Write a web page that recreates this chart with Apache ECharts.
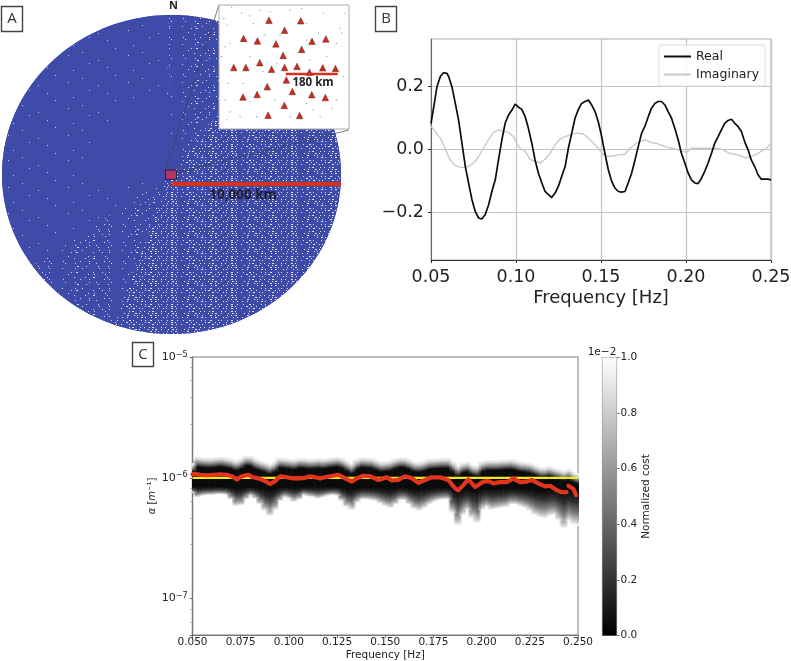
<!DOCTYPE html>
<html><head><meta charset="utf-8">
<style>html,body{margin:0;padding:0;background:#fff}#c{width:791px;height:661px}</style>
<script src="https://cdn.jsdelivr.net/npm/echarts@6/dist/echarts.min.js"></script>
</head><body><div id="c"></div>
<script>
// ---- Panel A: array footprint (km)
const discSectors = [ // startDeg, endDeg, rIn, rOut, speck key
  [0,360,0,1,'none'],
  [92,190,0.5,1,'sparse'],
  [190,215,0.12,1,'sparse'],[215,250,0.05,1,'mid'],
  [250,360,0.03,1,'dense'],[0,55,0.03,1,'dense'],[55,92,0.05,1,'mid']
];
const stationKmX = [-52,58,2,-140,-92,-28,97,145,61,-3,-84,-174,-132,-43,2,45,88,134,178,8,-58,29,96,143,-142,-93,1,-55,54];
const stationKmY = [162,160,127,99,90,80,89,97,61,40,15,-2,-2,-8,-2,2,-18,-3,-5,-45,-68,-85,-96,-106,-104,-95,-133,-167,-168];
const sourceKmX = [-208,-196,-181,-147,-118,-83,-187,-204,-106,-66,21,78,119,194,200,136,182,-204,-187,-152,-118,-129,-72,-25,-216,-193,-95,21,102,125,182,165,78,44,-31,-118,90,148,205,-198,-141,-14,78,-48,61,211];
const sourceKmY = [168,145,207,188,177,197,82,70,151,111,197,151,117,134,117,186,82,-114,-155,-172,-120,-10,-16,13,36,-57,-172,-172,-149,-172,-114,-143,-126,-62,-114,36,24,36,-33,-183,-57,111,93,192,203,186];
const scaleBigKm = [0,10000];
const scaleSmallKm = [6,186];

// ---- Panel B: cross-spectrum
const realFreq = [0.05,0.0516,0.0535,0.0555,0.0574,0.0594,0.0604,0.0623,0.0643,0.0662,0.0682,0.0702,0.0721,0.0741,0.076,0.078,0.0799,0.0819,0.0839,0.0858,0.0878,0.0897,0.0917,0.0936,0.0956,0.0976,0.0995,0.1015,0.1034,0.1054,0.1073,0.1093,0.1112,0.1132,0.1152,0.1171,0.1191,0.121,0.123,0.1249,0.1269,0.1289,0.1308,0.1328,0.1347,0.1367,0.1386,0.1406,0.1426,0.1445,0.1465,0.1484,0.1504,0.1523,0.1543,0.1563,0.1582,0.1602,0.1621,0.1641,0.166,0.168,0.17,0.1719,0.1739,0.1758,0.1778,0.1797,0.1817,0.1836,0.1856,0.1876,0.1895,0.1915,0.1934,0.1954,0.1973,0.1993,0.2013,0.2032,0.2052,0.2071,0.2091,0.211,0.213,0.215,0.2169,0.2189,0.2208,0.2228,0.2247,0.2267,0.2287,0.2306,0.2326,0.2345,0.2365,0.2384,0.2404,0.2424,0.2443,0.2463,0.2482,0.25];
const realValues = [0.083,0.134,0.199,0.231,0.243,0.241,0.231,0.199,0.146,0.094,0.020,-0.054,-0.106,-0.159,-0.196,-0.217,-0.220,-0.206,-0.175,-0.133,-0.096,-0.033,0.031,0.083,0.109,0.125,0.144,0.134,0.127,0.104,0.067,0.020,-0.033,-0.075,-0.106,-0.133,-0.143,-0.152,-0.138,-0.117,-0.085,-0.054,0.004,0.052,0.099,0.127,0.146,0.152,0.157,0.141,0.120,0.088,0.041,-0.012,-0.064,-0.101,-0.122,-0.133,-0.135,-0.133,-0.106,-0.075,-0.033,0.009,0.052,0.073,0.104,0.131,0.146,0.152,0.152,0.141,0.120,0.099,0.067,0.031,-0.012,-0.043,-0.075,-0.096,-0.106,-0.108,-0.091,-0.069,-0.043,-0.012,0.020,0.041,0.062,0.083,0.092,0.096,0.083,0.073,0.057,0.025,-0.001,-0.033,-0.054,-0.080,-0.094,-0.094,-0.094,-0.096];
const imagFreq = [0.05,0.0525,0.0555,0.0574,0.0594,0.0613,0.0643,0.0672,0.0702,0.0731,0.076,0.078,0.0809,0.0839,0.0868,0.0897,0.0927,0.0956,0.0985,0.1005,0.1024,0.1054,0.1083,0.1112,0.1142,0.1171,0.1201,0.123,0.1259,0.1289,0.1318,0.1357,0.1396,0.1426,0.1455,0.1484,0.1514,0.1543,0.1572,0.1612,0.1641,0.167,0.1709,0.1758,0.1797,0.1836,0.1876,0.1915,0.1954,0.2003,0.2032,0.2081,0.213,0.2179,0.2218,0.2257,0.2306,0.2355,0.2394,0.2433,0.2472,0.25];
const imagValues = [0.073,0.057,0.036,0.015,-0.012,-0.033,-0.051,-0.056,-0.057,-0.051,-0.038,-0.022,0.004,0.031,0.054,0.062,0.057,0.054,0.041,0.020,0.004,-0.006,-0.031,-0.038,-0.043,-0.031,-0.012,0.015,0.033,0.041,0.046,0.052,0.049,0.036,0.020,0.004,-0.017,-0.022,-0.020,-0.017,-0.015,0.004,0.020,0.031,0.022,0.018,0.009,0.004,-0.001,-0.009,0.004,0.004,0.004,0.004,-0.001,-0.012,-0.017,-0.027,-0.020,-0.009,0.004,0.017];
const bTicksY = [-0.2,0,0.2];

// ---- Panel C: cost band per frequency column, in units of 1e-6 1/m
const costFreqStart = 0.05, costFreqStep = 0.0025;
const costUpper = [1.32,1.52,1.50,1.49,1.49,1.51,1.52,1.49,1.46,1.41,1.46,1.55,1.54,1.46,1.41,1.37,1.32,1.38,1.49,1.48,1.46,1.44,1.48,1.48,1.46,1.46,1.48,1.46,1.48,1.50,1.52,1.48,1.40,1.33,1.44,1.50,1.49,1.48,1.43,1.38,1.39,1.41,1.46,1.50,1.49,1.44,1.38,1.37,1.40,1.45,1.46,1.47,1.48,1.48,1.38,1.27,1.35,1.38,1.30,1.27,1.38,1.42,1.42,1.42,1.43,1.44,1.45,1.42,1.38,1.37,1.35,1.30,1.25,1.24,1.27,1.23,1.20,1.16,1.20,1.13,1.09];
const costLower = [0.75,0.69,0.71,0.72,0.72,0.73,0.73,0.72,0.66,0.58,0.59,0.66,0.71,0.67,0.60,0.53,0.48,0.54,0.64,0.69,0.67,0.63,0.66,0.72,0.70,0.69,0.67,0.69,0.71,0.72,0.71,0.64,0.57,0.54,0.62,0.66,0.66,0.65,0.64,0.61,0.58,0.56,0.60,0.65,0.65,0.60,0.55,0.53,0.56,0.60,0.63,0.65,0.66,0.66,0.51,0.40,0.49,0.54,0.46,0.42,0.54,0.57,0.54,0.55,0.56,0.57,0.60,0.60,0.58,0.56,0.53,0.49,0.47,0.46,0.48,0.49,0.44,0.38,0.44,0.41,0.40];
const estimateFreq = [0.05,0.0514,0.054,0.0575,0.0609,0.0644,0.0678,0.0704,0.073,0.0756,0.079,0.0816,0.0851,0.0877,0.0903,0.0929,0.0955,0.099,0.1024,0.105,0.1084,0.111,0.1136,0.1162,0.1188,0.1214,0.1257,0.1292,0.1327,0.1352,0.1387,0.1421,0.1465,0.1508,0.1534,0.1568,0.1603,0.1638,0.1672,0.1707,0.1741,0.1784,0.1827,0.1836,0.1862,0.1879,0.1905,0.1931,0.1966,0.2009,0.2035,0.2061,0.2095,0.213,0.2164,0.2199,0.2234,0.226,0.2294,0.2329,0.2355,0.239,0.2415,0.2441,0.245,0.2476,0.249];
const estimateAlpha = [1.07,1.08,1.06,1.05,1.06,1.07,1.06,1.03,0.97,1.03,1.06,1.01,0.98,0.94,0.89,0.94,1.03,1.01,0.99,0.99,1.00,1.03,1.01,0.99,1.01,1.03,1.06,0.99,0.93,0.99,1.04,1.03,0.96,1.01,0.95,0.96,1.03,0.99,0.91,0.96,1.01,1.01,0.96,0.96,0.82,0.79,0.87,0.97,0.84,0.93,0.94,0.90,0.92,0.92,0.99,0.92,0.93,0.96,0.90,0.85,0.86,0.79,0.76,0.76,0.86,0.81,0.72];
const estimateBreakAfter = 63;
const trueAlphaFreq = [0.05,0.25];
const trueAlpha = [1,1];
const costbarValue = [1];

// ---- helpers
const UNIT = 1e-6;
const FONT = '"DejaVu Sans"';
const decals = {
  none: null,
  sparse: {symbol:'rect',symbolSize:1,color:'rgba(255,255,255,0.7)',
    dashArrayX:[[0,29,1,30],[0,47,1,12],[0,13,1,46],[0,55,1,4],[0,22,1,37],[0,8,1,51],[0,38,1,21]],
    dashArrayY:[1,2,1,3,1,2,1,4]},
  mid: {symbol:'rect',symbolSize:1,color:'rgba(255,255,255,0.8)',
    dashArrayX:[[0,5,1,9,1,13,1,6,1,14,1,8],[0,17,2,7,1,11,1,9,1,11],[0,2,1,12,1,6,1,16,1,9,1,10],[0,11,1,4,2,15,1,8,1,6,1,10],[0,8,1,19,1,5,1,10,1,14],[0,14,1,10,1,7,2,12,1,12],[0,3,1,16,1,8,1,14,1,4,1,10]],
    dashArrayY:[1,1,1,2,1,1,1,2,1,1,1,3]},
  dense: {symbol:'rect',symbolSize:1,color:'rgba(255,255,255,0.85)',
    dashArrayX:[[0,3,1,5,2,2,1,7,1,3,1,4,2,6,1,2,1,5,1,3,2,4,1,2],[0,6,2,3,1,4,1,8,1,2,2,5,1,3,1,6,1,4,2,2,1,4],[0,1,1,7,1,3,2,4,1,2,1,9,2,3,1,5,1,2,1,4,2,3,1,3],[0,9,1,2,2,6,1,3,1,4,1,2,2,7,1,3,1,5,2,2,1,4],[0,4,1,3,1,6,2,2,1,8,1,3,1,2,2,4,1,6,1,3,2,2,1,3],[0,7,2,5,1,2,1,4,1,7,2,3,1,2,1,8,1,3,1,3,2,3],[0,2,1,4,1,9,1,3,2,2,1,5,1,3,2,6,1,2,1,6,1,3,1,2]],
    dashArrayY:[1,1,1,1,1,2,1,1,1,1,1,1,1,2]}
};

const labelBox = (x,y,w,h,t) => ([
  {type:'rect',shape:{x,y,width:w,height:h},style:{fill:'#fff',stroke:'#444',lineWidth:1.4},z:50},
  {type:'text',x:x+w/2,y:y+h/2,style:{text:t,font:'15px "Open Sans"',fill:'#333',align:'center',verticalAlign:'middle'},z:51}
]);

// one pass of the cost band; extra translucent passes soften column edges
const costPass = (shift, alpha, z) => ({
  type:'custom',xAxisIndex:3,yAxisIndex:3,z,clip:true,silent:true,
  data:costUpper.map((u,i)=>[costFreqStart+i*costFreqStep,u*UNIT,costLower[i]*UNIT]),
  encode:{x:0,y:[1,2]},
  renderItem:(p,api)=>{
    const f=api.value(0),c0=api.coord([f,api.value(1)]),c1=api.coord([f,api.value(2)]),cm=api.coord([f,UNIT]);
    const W=api.coord([f+costFreqStep,UNIT])[0]-c0[0];
    const top=c0[1],bot=c1[1],h=bot-top;
    const f1=Math.min(11/h,0.3), f2=(cm[1]+10+(bot-cm[1]-24)*0.15-top)/h;
    return {type:'rect',shape:{x:c0[0]-W/2+shift*W,y:top,width:W+0.4,height:h},style:{opacity:alpha,
      fill:new echarts.graphic.LinearGradient(0,0,0,1,[
        {offset:0,color:'#ffffff'},{offset:f1*0.3,color:'#d8d8d8'},{offset:f1*0.65,color:'#7c7c7c'},{offset:f1,color:'#0a0a0a'},
        {offset:f2,color:'#0a0a0a'},{offset:f2+(1-f2)*0.3,color:'#2c2c2c'},{offset:f2+(1-f2)*0.6,color:'#6e6e6e'},{offset:f2+(1-f2)*0.85,color:'#bcbcbc'},{offset:1,color:'#ffffff'}])}};
  }
});

const hidden = {show:false};
const option = {
  animation:false, backgroundColor:'#fff',
  textStyle:{fontFamily:FONT},
  legend:{
    data:['Real','Imaginary'],orient:'vertical',left:659,top:45,padding:[5,6,5,5],itemGap:5,
    itemWidth:27,itemHeight:2,icon:'rect',backgroundColor:'rgba(255,255,255,0.85)',borderColor:'#ddd',borderWidth:1,borderRadius:2,
    textStyle:{fontFamily:FONT,fontSize:12.5,color:'#222'},z:20
  },
  grid:[
    {left:2,top:15,width:339,height:319,show:false,outerBoundsMode:'none'},
    {left:219,top:5,width:130,height:124,show:true,backgroundColor:'#fff',borderColor:'#aaa',borderWidth:1,z:8,outerBoundsMode:'none'},
    {left:431,top:39,width:340,height:221,show:true,backgroundColor:'#fff',borderColor:'#aaa',borderWidth:1,outerBoundsMode:'none'},
    {left:192.5,top:357,width:385.5,height:278,show:true,backgroundColor:'#fff',borderColor:'#aaa',borderWidth:1.5,outerBoundsMode:'none'},
    {left:602.5,top:357.5,width:14,height:278,show:true,backgroundColor:'#fff',borderColor:'#999',borderWidth:1.2,z:4,outerBoundsMode:'none'}
  ],
  xAxis:[
    {gridIndex:0,type:'value',min:-10000,max:10000,show:false},
    {gridIndex:1,type:'value',min:-225,max:225,show:false,z:9},
    {gridIndex:2,type:'value',min:0.05,max:0.25,interval:0.05,
      name:'Frequency [Hz]',nameLocation:'middle',nameGap:29,nameTextStyle:{fontSize:18,color:'#222',fontFamily:FONT},
      axisLine:{onZero:false,lineStyle:{color:'#333',width:1}},axisTick:{show:true,length:3,lineStyle:{color:'#333'}},
      axisLabel:{fontSize:17.5,color:'#222',fontFamily:FONT,margin:8,formatter:v=>v.toFixed(2),hideOverlap:false},
      splitLine:{show:true,lineStyle:{color:'#c4c4c4',width:1.2}}},
    {gridIndex:3,type:'value',min:0.05,max:0.25,interval:0.025,
      name:'Frequency [Hz]',nameLocation:'middle',nameGap:15,nameTextStyle:{fontSize:10.5,color:'#222',fontFamily:FONT},
      axisLine:{onZero:false,lineStyle:{color:'#777',width:1.2}},axisTick:{show:true,length:3,lineStyle:{color:'#555',width:0.8}},
      axisLabel:{fontSize:10.5,color:'#222',fontFamily:FONT,margin:2,formatter:v=>v.toFixed(3)},
      splitLine:hidden},
    {gridIndex:4,type:'category',data:['c'],show:false}
  ],
  yAxis:[
    {gridIndex:0,type:'value',min:-10000,max:10000,show:false},
    {gridIndex:1,type:'value',min:-214.6,max:214.6,show:false,z:9},
    {gridIndex:2,type:'value',min:-0.35,max:0.35,
      axisLine:{show:true,onZero:false,lineStyle:{color:'#666',width:1}},
      axisTick:{show:true,length:3,customValues:bTicksY,lineStyle:{color:'#333'}},
      axisLabel:{fontSize:17.5,color:'#222',fontFamily:FONT,margin:7,customValues:bTicksY,formatter:v=>(v<0?'\u2212':'')+Math.abs(v).toFixed(1)},
      splitLine:{show:true,lineStyle:{color:'#c4c4c4',width:1.2}}},
    {gridIndex:3,type:'log',logBase:10,min:5e-8,max:1e-5,
      name:'{i|\u03b1} [{i|m}\u207b\u00b9]',nameLocation:'middle',nameGap:25,nameRotate:90,
      nameTextStyle:{fontSize:10,color:'#222',fontFamily:FONT,rich:{i:{fontStyle:'italic',fontSize:10,fontFamily:FONT}}},
      axisLine:{show:true,onZero:false,lineStyle:{color:'#777',width:1.2}},
      axisTick:{show:true,length:3,lineStyle:{color:'#555',width:0.8}},
      minorTick:{show:true,splitNumber:5,length:2,lineStyle:{color:'#888',width:0.7}},
      axisLabel:{fontSize:11,color:'#222',fontFamily:FONT,margin:5,showMinLabel:true,
        formatter:v=>{const e=Math.log10(v);return Math.abs(e-Math.round(e))<1e-6?'10{s|\u2212'+Math.abs(Math.round(e))+'}':'';},
        rich:{s:{fontSize:8,verticalAlign:'top',padding:[0,0,5,0],fontFamily:FONT,color:'#222'}}},
      splitLine:hidden},
    {gridIndex:4,type:'value',min:0,max:1,interval:0.2,position:'right',
      name:'Normalized cost',nameLocation:'middle',nameGap:24,nameRotate:90,nameTextStyle:{fontSize:10.5,color:'#222',fontFamily:FONT},
      axisLine:{show:true,lineStyle:{color:'#888',width:1}},axisTick:{show:true,length:3,lineStyle:{color:'#444',width:0.8}},
      axisLabel:{fontSize:10.5,color:'#222',fontFamily:FONT,margin:4,formatter:v=>v.toFixed(1)},splitLine:hidden}
  ],
  series:[
    {type:'custom',xAxisIndex:0,yAxisIndex:0,z:1,clip:false,silent:true,
      data:discSectors.map(s=>s.slice(0,4)),
      renderItem:(p,api)=>{
        const s=discSectors[p.dataIndex], pts=[];
        for(let a=s[0];a<=s[1]+0.001;a+=2){const t=a*Math.PI/180;pts.push(api.coord([Math.cos(t)*s[3]*10000,Math.sin(t)*s[3]*10000]));}
        for(let a=s[1];a>=s[0]-0.001;a-=2){const t=a*Math.PI/180;pts.push(api.coord([Math.cos(t)*s[2]*10000,Math.sin(t)*s[2]*10000]));}
        const st={fill:'#3f4ba8'};const d=decals[s[4]];if(d)st.decal=d;
        return {type:'polygon',shape:{points:pts},style:st};
      }},
    {type:'line',xAxisIndex:0,yAxisIndex:0,z:3,symbol:'none',silent:true,data:scaleBigKm.map(x=>[x,-595]),lineStyle:{color:'#d8301f',width:4}},
    {type:'scatter',xAxisIndex:1,yAxisIndex:1,z:9,silent:true,symbol:'circle',symbolSize:1.2,data:sourceKmX.map((x,i)=>[x,sourceKmY[i]]),itemStyle:{color:'#7d84c4',opacity:1}},
    {type:'scatter',xAxisIndex:1,yAxisIndex:1,z:10,silent:true,symbol:'triangle',symbolSize:6.5,data:stationKmX.map((x,i)=>[x,stationKmY[i]]),itemStyle:{color:'#cf2a1c',opacity:1,borderColor:'#5c2a22',borderWidth:0.5}},
    {type:'line',xAxisIndex:1,yAxisIndex:1,z:11,symbol:'none',silent:true,data:scaleSmallKm.map(x=>[x,-24]),lineStyle:{color:'#d8301f',width:2.5}},
    {name:'Imaginary',type:'line',xAxisIndex:2,yAxisIndex:2,z:4,symbol:'none',data:imagFreq.map((f,i)=>[f,imagValues[i]]),lineStyle:{color:'#c9c9c9',width:1.4},itemStyle:{color:'#c9c9c9'}},
    {name:'Real',type:'line',xAxisIndex:2,yAxisIndex:2,z:5,symbol:'none',data:realFreq.map((f,i)=>[f,realValues[i]]),lineStyle:{color:'#0c0c0c',width:1.7},itemStyle:{color:'#0c0c0c'}},
    costPass(0,1,2),costPass(-0.33,0.5,3),costPass(0.33,0.4,4),
    {type:'line',xAxisIndex:3,yAxisIndex:3,z:5,symbol:'none',silent:true,data:trueAlphaFreq.map((f,i)=>[f,trueAlpha[i]*UNIT]),lineStyle:{color:'#f4e817',width:2.2}},
    {type:'line',xAxisIndex:3,yAxisIndex:3,z:6,symbol:'none',silent:true,connectNulls:false,
      data:estimateFreq.flatMap((f,i)=>i===estimateBreakAfter?[[f,estimateAlpha[i]*UNIT],[f,null]]:[[f,estimateAlpha[i]*UNIT]]),
      lineStyle:{color:'#e2351f',width:4.2,cap:'round',join:'round'}},
    {type:'bar',xAxisIndex:4,yAxisIndex:4,z:5,silent:true,barWidth:'100%',data:costbarValue,
      itemStyle:{color:new echarts.graphic.LinearGradient(0,0,0,1,[{offset:0,color:'#ffffff'},{offset:1,color:'#000000'}])}}
  ],
  graphic:{elements:[
    ...labelBox(1.5,6.5,21,25,'A'),...labelBox(375.5,6.5,21,25,'B'),...labelBox(132.5,342.5,21,24,'C'),
    {type:'polyline',shape:{points:[[165.5,170],[219,5]]},style:{stroke:'#3d3d5a',lineWidth:0.7,fill:null},z:7},
    {type:'polyline',shape:{points:[[176.7,173],[349,130]]},style:{stroke:'#3d3d5a',lineWidth:0.7,fill:null},z:7},
    {type:'rect',shape:{x:165.5,y:170,width:11,height:9.3},style:{fill:'#b23668',stroke:'#1c1c40',lineWidth:0.9},z:7},
    {type:'text',x:173.5,y:5.5,style:{text:'N',font:'bold 11px "Open Sans"',fill:'#222',align:'center',verticalAlign:'middle'},z:30},
    {type:'text',x:243,y:195,style:{text:'10,000 km',font:'bold 13.5px "Open Sans"',fill:'#1d1d2c',align:'center',verticalAlign:'middle'},z:30},
    {type:'text',x:313,y:82.5,style:{text:'180 km',font:'bold 11.5px "Open Sans"',fill:'#222',align:'center',verticalAlign:'middle'},z:30},
    {type:'text',x:602,y:352,style:{text:'1e\u22122',font:'10.5px "DejaVu Sans"',fill:'#222',align:'center',verticalAlign:'middle'},z:30}
  ]}
};
const chart = echarts.init(document.getElementById('c'),null,{renderer:'canvas',width:791,height:661});
chart.setOption(option);
</script></body></html>
